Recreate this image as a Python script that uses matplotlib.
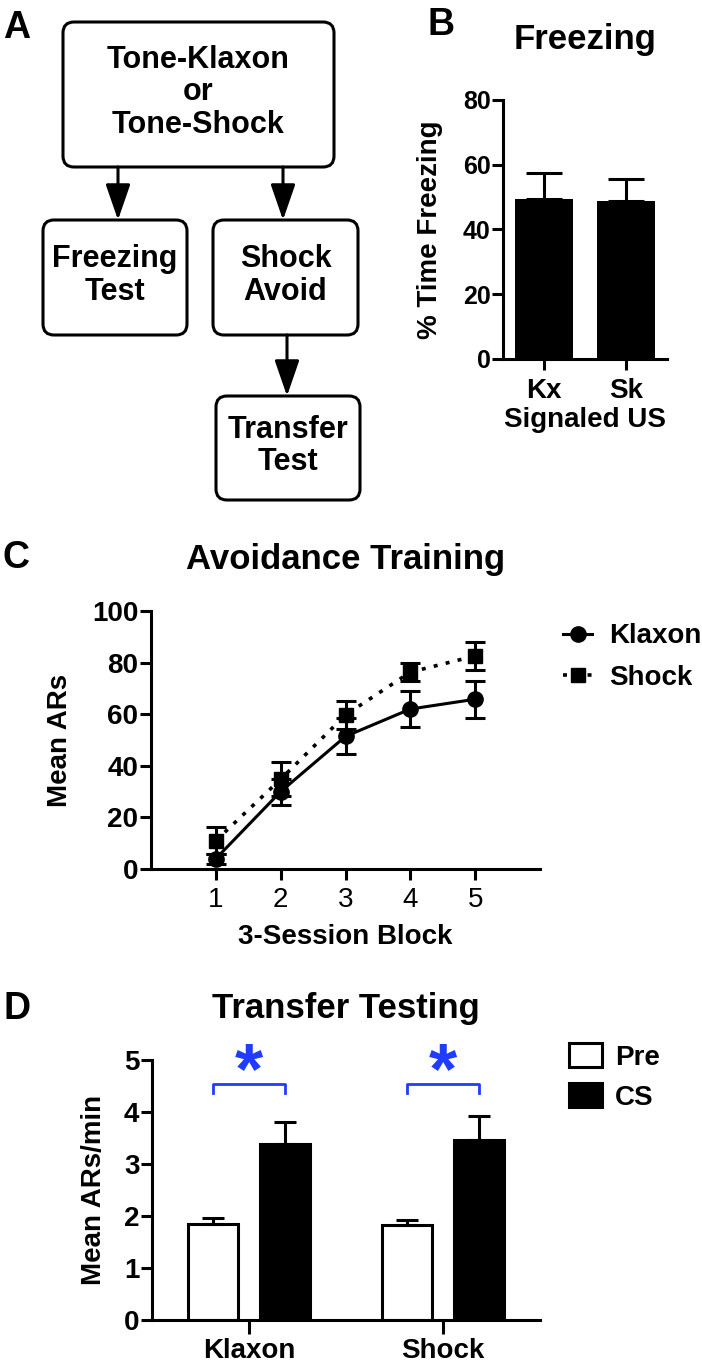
import matplotlib
matplotlib.use('Agg')
import matplotlib.pyplot as plt
from matplotlib.patches import FancyBboxPatch

plt.rcParams['font.family'] = ['Liberation Sans', 'DejaVu Sans']
plt.rcParams['font.weight'] = 'bold'
plt.rcParams['axes.labelweight'] = 'bold'
plt.rcParams['axes.titleweight'] = 'bold'

# Panel B - freezing test
freeze_groups = ['Kx', 'Sk']
freeze_mean = [49.5, 48.8]
freeze_sem = [7.8, 6.7]

# Panel C - avoidance training
blocks = [1, 2, 3, 4, 5]
klaxon_mean = [4, 30, 51.4, 62, 65.8]
klaxon_sem = [2, 5, 7, 6.8, 7.1]
shock_mean = [11, 34.8, 59.7, 76.3, 82.6]
shock_sem = [5.3, 6.5, 5.6, 3.5, 5.3]

# Panel D - transfer testing
transfer_groups = ['Klaxon', 'Shock']
pre_mean = [1.84, 1.83]
pre_sem = [0.13, 0.10]
cs_mean = [3.39, 3.46]
cs_sem = [0.41, 0.46]

W, H = 702, 1369
fig = plt.figure(figsize=(W / 100, H / 100), dpi=100)
LW = 2.2
BLUE = '#1f3cff'


def axes_px(left, top, right, bottom):
    return fig.add_axes([left / W, 1 - bottom / H, (right - left) / W, (bottom - top) / H])


def style_axes(ax, tick_fs=20):
    for s in ['top', 'right']:
        ax.spines[s].set_visible(False)
    for s in ['left', 'bottom']:
        ax.spines[s].set_linewidth(LW)
    ax.tick_params(width=LW, length=8, labelsize=tick_fs, pad=1)


# overlay in pixel coordinates for the flow chart and panel letters
ov = fig.add_axes([0, 0, 1, 1])
ov.set_xlim(0, W)
ov.set_ylim(H, 0)
ov.axis('off')

boxes = [
    (63, 22, 334, 167, 'Tone-Klaxon\nor\nTone-Shock'),
    (43, 220, 187, 335, 'Freezing\nTest'),
    (213, 220, 358, 335, 'Shock\nAvoid'),
    (216, 396, 360, 500, 'Transfer\nTest'),
]
for x0, y0, x1, y1, label in boxes:
    ov.add_patch(FancyBboxPatch((x0, y0), x1 - x0, y1 - y0,
                                boxstyle='round,pad=0,rounding_size=11',
                                fc='white', ec='black', lw=LW))
    ov.text((x0 + x1) / 2, (y0 + y1) / 2 - 2, label, ha='center', va='center',
            fontsize=22, linespacing=1.1, multialignment='center')

arrows = [(118, 167, 220), (283, 167, 220), (287, 335, 396)]
for x, ya, yb in arrows:
    ov.annotate('', xy=(x, yb), xytext=(x, ya),
                arrowprops=dict(arrowstyle='-|>,head_length=1.1,head_width=0.38',
                                mutation_scale=20, lw=LW, color='black',
                                shrinkA=0, shrinkB=0))

for letter, x, y in [('A', 3, 38), ('B', 427, 35), ('C', 3, 568), ('D', 3, 1019)]:
    ov.text(x, y, letter, fontsize=27, ha='left', va='baseline')

# ---- Panel B ----
axb = axes_px(503, 100, 667, 359)
xb = range(len(freeze_groups))
axb.bar(xb, freeze_mean, width=0.7, color='black')
axb.errorbar(xb, freeze_mean, yerr=[[0] * 2, freeze_sem], fmt='none',
             ecolor='black', elinewidth=LW, capsize=13, capthick=LW)
axb.set_xlim(-0.5, 1.5)
axb.set_ylim(0, 80)
axb.set_yticks([0, 20, 40, 60, 80])
axb.set_xticks(list(xb))
axb.set_xticklabels(freeze_groups)
style_axes(axb, 18)
axb.tick_params(axis='x', labelsize=20, pad=6)
axb.set_ylabel('% Time Freezing', fontsize=20, labelpad=14)
axb.set_xlabel('Signaled US', fontsize=20, labelpad=2)
axb.set_title('Freezing', fontsize=25, pad=37)

# ---- Panel C ----
axc = axes_px(151, 611, 540, 869)
l1, = axc.plot(blocks, klaxon_mean, '-', color='black', lw=LW, marker='o',
               markersize=11, clip_on=False, zorder=4, label='Klaxon')
axc.errorbar(blocks, klaxon_mean, yerr=klaxon_sem, fmt='none', ecolor='black',
             elinewidth=LW, capsize=7.5, capthick=LW, zorder=4, clip_on=False)
l2, = axc.plot(blocks, shock_mean, color='black', lw=2.6, ls=(0, (1.1, 2.3)),
               marker='s', markersize=10, clip_on=False, zorder=3, label='Shock')
axc.errorbar(blocks, shock_mean, yerr=shock_sem, fmt='none', ecolor='black',
             elinewidth=LW, capsize=7.5, capthick=LW, zorder=3, clip_on=False)
axc.set_xlim(0, 6)
axc.set_ylim(0, 100)
axc.set_xticks(blocks)
axc.set_yticks([0, 20, 40, 60, 80, 100])
style_axes(axc, 20)
axc.tick_params(axis='x', pad=5)
for t in axc.get_xticklabels():
    t.set_fontweight('normal')
axc.set_xlabel('3-Session Block', fontsize=20, labelpad=8)
axc.set_ylabel('Mean ARs', fontsize=20, labelpad=14)
axc.set_title('Avoidance Training', fontsize=25, pad=30)
fig.legend(handles=[l1, l2], loc='center left', frameon=False,
           bbox_to_anchor=(563 / W, 1 - 657 / H), bbox_transform=fig.transFigure,
           fontsize=20, handlelength=1.05, handletextpad=0.6, labelspacing=0.55,
           borderpad=0, borderaxespad=0)

# ---- Panel D ----
axd = axes_px(152, 1060, 540, 1320)
xd = range(len(transfer_groups))
off = 0.185
bw = 0.26
xpre = [x - off for x in xd]
xcs = [x + off for x in xd]
b1 = axd.bar(xpre, pre_mean, width=bw, color='white', edgecolor='black', lw=LW, label='Pre')
b2 = axd.bar(xcs, cs_mean, width=bw, color='black', edgecolor='black', lw=LW, label='CS')
axd.errorbar(xpre, pre_mean, yerr=[[0] * 2, pre_sem], fmt='none', ecolor='black',
             elinewidth=LW, capsize=8, capthick=LW, zorder=1)
axd.errorbar(xcs, cs_mean, yerr=[[0] * 2, cs_sem], fmt='none', ecolor='black',
             elinewidth=LW, capsize=8, capthick=LW, zorder=1)
axd.set_xlim(-0.5, 1.5)
axd.set_ylim(0, 5)
axd.set_yticks([0, 1, 2, 3, 4, 5])
axd.set_xticks(list(xd))
axd.set_xticklabels(transfer_groups)
style_axes(axd, 20)
axd.tick_params(axis='x', length=10, pad=3)
axd.set_ylabel('Mean ARs/min', fontsize=20, labelpad=12)
axd.set_title('Transfer Testing', fontsize=25, pad=30)
for a, b in zip(xpre, xcs):
    axd.plot([a, a, b, b], [4.36, 4.53, 4.53, 4.36], color=BLUE, lw=2, clip_on=False)
    axd.text((a + b) / 2, 4.37, '*', color=BLUE, fontsize=52, ha='center',
             va='baseline', clip_on=False)
fig.legend(handles=[b1, b2], loc='center left', frameon=False,
           bbox_to_anchor=(569 / W, 1 - 1077 / H), bbox_transform=fig.transFigure,
           fontsize=20, handlelength=1.2, handleheight=0.95, handletextpad=0.45,
           labelspacing=0.45, borderpad=0, borderaxespad=0)

fig.savefig('out.png', dpi=100)
